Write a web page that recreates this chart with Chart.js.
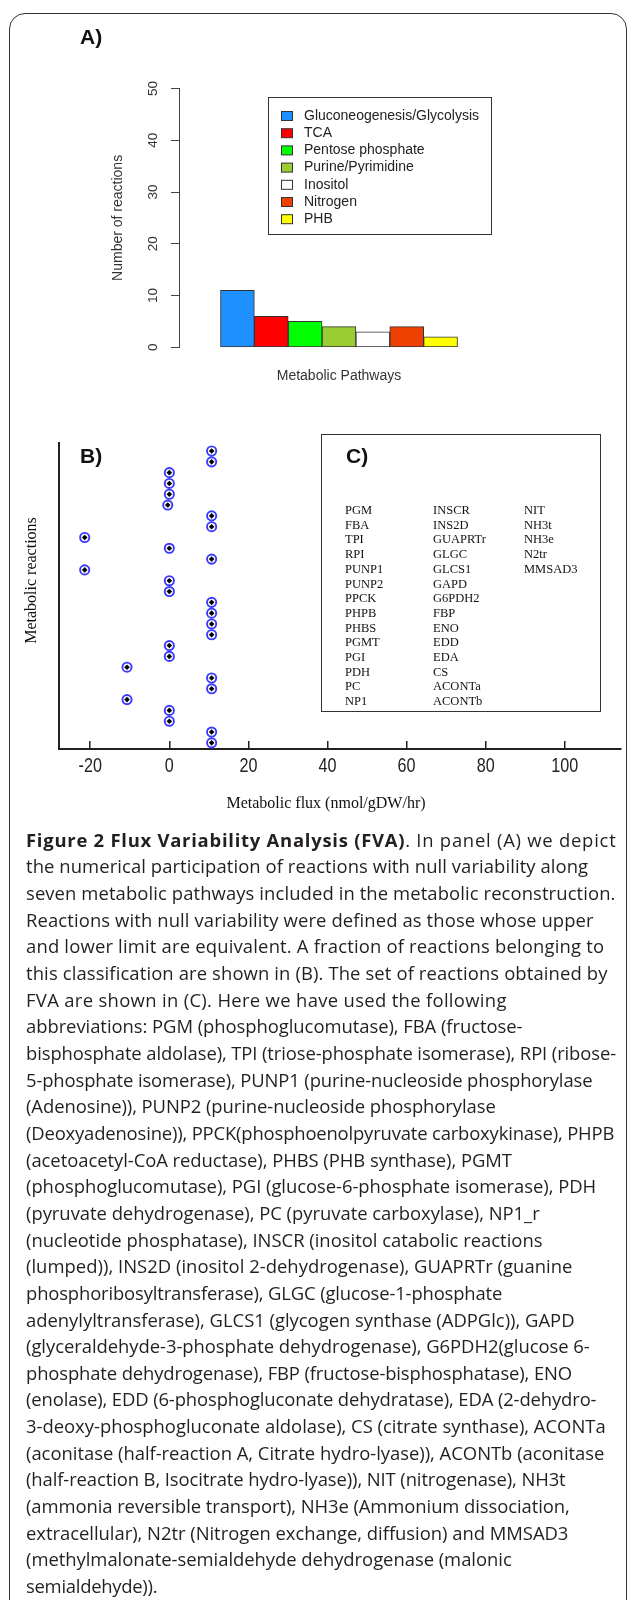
<!DOCTYPE html>
<html>
<head>
<meta charset="utf-8">
<script src="https://cdn.jsdelivr.net/npm/chart.js@4.4.0/dist/chart.umd.min.js"></script>
<style>
  html, body { margin: 0; padding: 0; background: #fff; }
  body { width: 629px; height: 1600px; position: relative; overflow: hidden; font-family: "Liberation Sans", Arial, sans-serif; }
  #frame { position: absolute; left: 9px; top: 13px; width: 618px; height: 1700px; box-sizing: border-box;
           border: 1.5px solid #333; border-radius: 16px; }
  canvas { position: absolute; left: 0; }
  .plabel { position: absolute; font: bold 21px "Liberation Sans", Arial, sans-serif; line-height: 24px; color: #111; }
  #boxC { position: absolute; left: 321px; top: 434px; width: 280px; height: 278px; box-sizing: border-box; border: 1px solid #333; }
  .rx { position: absolute; font: 12.5px "Liberation Serif", "Times New Roman", serif; line-height: 14px; color: #111; white-space: nowrap; }
  #caption { position: absolute; left: 26px; top: 826.7px; color: #231f20; font-family: "Open Sans", sans-serif; font-size: 17px; }
  #caption div { height: 26.67px; line-height: 26.67px; white-space: nowrap; width: max-content; }
</style>
</head>
<body>
<div id="frame"></div>
<canvas id="chartA" width="629" height="400" style="top:0"></canvas>
<canvas id="chartB" width="629" height="430" style="top:400px"></canvas>
<div class="plabel" style="left:80px;top:25px">A)</div>
<div class="plabel" style="left:80px;top:444px">B)</div>
<div id="boxC"></div>
<div class="plabel" style="left:346px;top:444px">C)</div>

<div id="caption">
<div><b>Figure 2 Flux Variability Analysis (FVA)</b>. In panel (A) we depict</div>
<div>the numerical participation of reactions with null variability along</div>
<div>seven metabolic pathways included in the metabolic reconstruction.</div>
<div>Reactions with null variability were defined as those whose upper</div>
<div>and lower limit are equivalent. A fraction of reactions belonging to</div>
<div>this classification are shown in (B). The set of reactions obtained by</div>
<div>FVA are shown in (C). Here we have used the following</div>
<div>abbreviations: PGM (phosphoglucomutase), FBA (fructose-</div>
<div>bisphosphate aldolase), TPI (triose-phosphate isomerase), RPI (ribose-</div>
<div>5-phosphate isomerase), PUNP1 (purine-nucleoside phosphorylase</div>
<div>(Adenosine)), PUNP2 (purine-nucleoside phosphorylase</div>
<div>(Deoxyadenosine)), PPCK(phosphoenolpyruvate carboxykinase), PHPB</div>
<div>(acetoacetyl-CoA reductase), PHBS (PHB synthase), PGMT</div>
<div>(phosphoglucomutase), PGI (glucose-6-phosphate isomerase), PDH</div>
<div>(pyruvate dehydrogenase), PC (pyruvate carboxylase), NP1_r</div>
<div>(nucleotide phosphatase), INSCR (inositol catabolic reactions</div>
<div>(lumped)), INS2D (inositol 2-dehydrogenase), GUAPRTr (guanine</div>
<div>phosphoribosyltransferase), GLGC (glucose-1-phosphate</div>
<div>adenylyltransferase), GLCS1 (glycogen synthase (ADPGlc)), GAPD</div>
<div>(glyceraldehyde-3-phosphate dehydrogenase), G6PDH2(glucose 6-</div>
<div>phosphate dehydrogenase), FBP (fructose-bisphosphatase), ENO</div>
<div>(enolase), EDD (6-phosphogluconate dehydratase), EDA (2-dehydro-</div>
<div>3-deoxy-phosphogluconate aldolase), CS (citrate synthase), ACONTa</div>
<div>(aconitase (half-reaction A, Citrate hydro-lyase)), ACONTb (aconitase</div>
<div>(half-reaction B, Isocitrate hydro-lyase)), NIT (nitrogenase), NH3t</div>
<div>(ammonia reversible transport), NH3e (Ammonium dissociation,</div>
<div>extracellular), N2tr (Nitrogen exchange, diffusion) and MMSAD3</div>
<div>(methylmalonate-semialdehyde dehydrogenase (malonic</div>
<div>semialdehyde)).</div>
</div>

<script>
// panel A: reactions with null variability per pathway
const pathways = ["Gluconeogenesis/Glycolysis", "TCA", "Pentose phosphate", "Purine/Pyrimidine", "Inositol", "Nitrogen", "PHB"];
const reactionCounts = [11, 6, 5, 4, 3, 4, 2];
const pathwayColors = ["#1e90ff", "#ff0000", "#00ff00", "#9acd32", "#ffffff", "#ee4000", "#ffff00"];
const countTicks = [0, 10, 20, 30, 40, 50];

// panel B: flux of each reaction, listed from bottom to top
const reactionFlux = [10.7, 10.7, 0, 0, -10.7, 10.7, 10.7, -10.7, 0, 0, 10.7, 10.7, 10.7, 10.7,
                      0, 0, -21.4, 10.7, 0, -21.4, 10.7, 10.7, -0.4, 0, 0, 0, 10.7, 10.7];
const fluxTicks = [-20, 0, 20, 40, 60, 80, 100];

// panel C: reaction list, three columns
const reactionsCol1 = ["PGM", "FBA", "TPI", "RPI", "PUNP1", "PUNP2", "PPCK", "PHPB", "PHBS", "PGMT", "PGI", "PDH", "PC", "NP1"];
const reactionsCol2 = ["INSCR", "INS2D", "GUAPRTr", "GLGC", "GLCS1", "GAPD", "G6PDH2", "FBP", "ENO", "EDD", "EDA", "CS", "ACONTa", "ACONTb"];
const reactionsCol3 = ["NIT", "NH3t", "NH3e", "N2tr", "MMSAD3"];

const sans = '"Liberation Sans", Arial, sans-serif';
const serif = '"Liberation Serif", "Times New Roman", serif';

// R-style rotated y tick labels
const rotatedTicks = {
  id: 'rotatedTicks',
  afterDraw(chart) {
    const ctx = chart.ctx, s = chart.scales.y;
    ctx.save();
    ctx.font = '13.5px ' + sans;
    ctx.fillStyle = '#333';
    ctx.textAlign = 'center';
    ctx.textBaseline = 'middle';
    countTicks.forEach(v => {
      ctx.save();
      ctx.translate(153, s.getPixelForValue(v));
      ctx.rotate(-Math.PI / 2);
      ctx.fillText(String(v), 0, 0);
      ctx.restore();
    });
    ctx.restore();
  }
};

// boxed legend inside the plot
const boxLegend = {
  id: 'boxLegend',
  afterDraw(chart) {
    const ctx = chart.ctx;
    ctx.save();
    ctx.strokeStyle = '#333';
    ctx.lineWidth = 1;
    ctx.strokeRect(268.5, 97.5, 223, 137);
    ctx.font = '14px ' + sans;
    ctx.textBaseline = 'middle';
    pathways.forEach((name, i) => {
      const y = 116 + i * 17.2;
      ctx.fillStyle = pathwayColors[i];
      ctx.fillRect(281, y - 4.5, 11, 9);
      ctx.strokeRect(281.5, y - 4.5, 11, 9);
      ctx.fillStyle = '#222';
      ctx.fillText(name, 304, y);
    });
    ctx.restore();
  }
};

new Chart(document.getElementById('chartA'), {
  type: 'bar',
  data: {
    datasets: [{
      data: reactionCounts.map((v, i) => ({ x: i + 0.5, y: v })),
      backgroundColor: pathwayColors,
      borderColor: '#333',
      borderWidth: 1,
      borderSkipped: false,
      barPercentage: 1,
      categoryPercentage: 1
    }]
  },
  options: {
    responsive: false,
    animation: false,
    layout: { padding: { left: 100, right: 130, top: 88.5, bottom: 0 } },
    plugins: { legend: { display: false }, tooltip: { enabled: false } },
    scales: {
      x: {
        type: 'linear', min: -0.28, max: 7.28,
        ticks: { display: false },
        grid: { display: false },
        border: { display: false },
        title: { display: true, text: 'Metabolic Pathways', color: '#333', font: { family: sans, size: 14 }, padding: { top: 0, bottom: 15.6 } },
        afterFit(s) { s.height = 52.7; }
      },
      y: {
        min: 0, max: 50,
        ticks: { display: false, stepSize: 10 },
        grid: { drawOnChartArea: false, drawTicks: true, tickLength: 8, color: '#444' },
        border: { color: '#444', width: 1 },
        title: { display: true, text: 'Number of reactions', color: '#333', font: { family: sans, size: 14 }, padding: { top: 9.6, bottom: 0 } },
        afterFit(s) { s.width = 79; }
      }
    }
  },
  plugins: [rotatedTicks, boxLegend]
});

// axis titles and narrow tick labels as in the figure
const fluxText = {
  id: 'fluxText',
  afterDraw(chart) {
    const ctx = chart.ctx, s = chart.scales.x;
    ctx.save();
    ctx.fillStyle = '#222';
    ctx.textAlign = 'center';
    ctx.textBaseline = 'middle';
    ctx.font = '21px ' + sans;
    fluxTicks.forEach(v => {
      ctx.save();
      ctx.translate(s.getPixelForValue(v), 366);
      ctx.scale(0.77, 1);
      ctx.fillText(String(v), 0, 0);
      ctx.restore();
    });
    ctx.fillStyle = '#111';
    ctx.font = '16px ' + serif;
    ctx.fillText('Metabolic flux (nmol/gDW/hr)', 326, 403.6);
    ctx.translate(32, 180.5);
    ctx.rotate(-Math.PI / 2);
    ctx.fillText('Metabolic reactions', 0, 0);
    ctx.restore();
  }
};

const fluxPoints = reactionFlux.map((v, i) => ({ x: v, y: i + 1 }));

new Chart(document.getElementById('chartB'), {
  type: 'scatter',
  data: {
    datasets: [
      { data: fluxPoints, pointStyle: 'rectRot', pointRadius: 2.8, pointBorderWidth: 0, pointBackgroundColor: '#000' },
      { data: fluxPoints, pointStyle: 'circle', pointRadius: 4.6, pointBorderWidth: 1.9, pointBorderColor: '#3a3aff', pointBackgroundColor: '#fff' }
    ]
  },
  options: {
    responsive: false,
    animation: false,
    clip: false,
    layout: { padding: { left: 19.4, right: 8.5, top: 42.7, bottom: 0 } },
    plugins: { legend: { display: false }, tooltip: { enabled: false } },
    scales: {
      x: {
        type: 'linear', min: -27.8, max: 114.1,
        afterBuildTicks(s) { s.ticks = fluxTicks.map(v => ({ value: v })); },
        ticks: { display: false },
        grid: { drawOnChartArea: false, drawTicks: true, tickLength: -8, color: '#222', lineWidth: 1.5 },
        border: { color: '#222', width: 2 },
        afterFit(s) { s.height = 81; }
      },
      y: {
        min: 0.43, max: 28.77,
        ticks: { display: false },
        grid: { drawOnChartArea: false, drawTicks: false },
        border: { color: '#222', width: 2 },
        afterFit(s) { s.width = 40; }
      }
    }
  },
  plugins: [fluxText]
});

// reaction list of panel C
const boxC = document.getElementById('boxC');
[[reactionsCol1, 345], [reactionsCol2, 433], [reactionsCol3, 524]].forEach(([col, x]) => {
  col.forEach((name, i) => {
    const d = document.createElement('div');
    d.className = 'rx';
    d.textContent = name;
    d.style.left = (x - 321 - 1) + 'px';
    d.style.top = (510 + i * 14.7 - 7 - 434 - 1) + 'px';
    boxC.appendChild(d);
  });
});

// caption: line widths as set in the figure, fitted with a common size and a little letter spacing
const lineWidths = [590, 562, 589, 568, 578, 582, 481, 496, 590, 566, 470, 588, 486, 570, 514,
                    516, 546, 476, 549, 564, 546, 570, 580, 578, 540, 544, 542, 486, 131];
const lines = Array.from(document.querySelectorAll('#caption div'));
const cap = document.getElementById('caption');
let natural = lines.map(l => l.offsetWidth);
const k = lineWidths.reduce((a, b) => a + b, 0) / natural.reduce((a, b) => a + b, 0);
cap.style.fontSize = (17 * k).toFixed(2) + 'px';
natural = lines.map(l => l.offsetWidth);
lines.forEach((l, i) => {
  const n = l.textContent.length;
  l.style.letterSpacing = ((lineWidths[i] - natural[i]) / n).toFixed(3) + 'px';
});
</script>
</body>
</html>
